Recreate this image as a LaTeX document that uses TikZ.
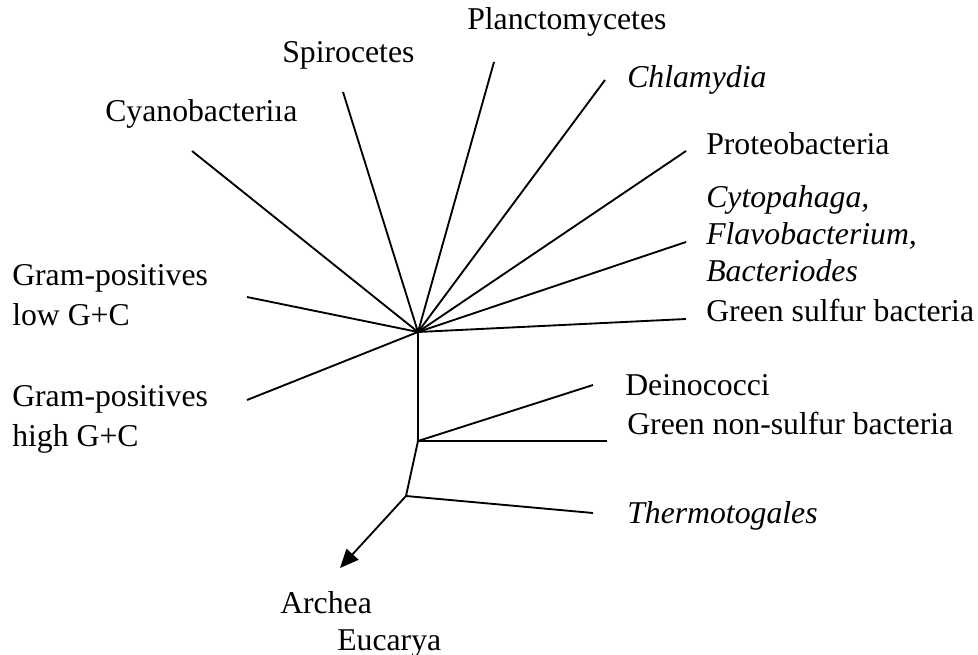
\documentclass[tikz,border=0pt]{standalone}
\usepackage{fontspec}
\setmainfont{Liberation Serif}
\usepackage{tikz}
\usetikzlibrary{positioning, arrows.meta}

\begin{document}
\begin{tikzpicture}[
        x=0.75pt, y=-0.75pt,
        every node/.style={font=\fontsize{23.8}{27.75}\selectfont, inner sep=0pt},
        taxon/.style={anchor=base west, align=left},
        wide/.style={taxon, font=\fontsize{23.8}{30}\selectfont},
        branch/.style={line width=1.4pt},
        arrow/.style={branch, -{Triangle[length=14pt, width=12pt]}}
    ]
        \useasboundingbox (0,0) rectangle (978,655);

        % labels (multi-line ones sit on their last baseline)
        \node[taxon] (planc) at (467,30) {Planctomycetes};
        \node[taxon] (spiro) at (282,63) {Spirocetes};
        \node[taxon] (cyano) at (105,122) {Cyanobacteriıa};
        \node[taxon] (chlam) at (627,88) {\textit{Chlamydia}};
        \node[taxon] (proteo) at (706,155) {Proteobacteria};
        \node[taxon] (cyto) at (706,282) {\textit{Cytopahaga,}\\\textit{Flavobacterium,}\\\textit{Bacteriodes}};
        \node[taxon] (gsulf) at (706,322) {Green sulfur bacteria};
        \node[wide] (glow) at (12,326) {Gram-positives\\low G+C};
        \node[wide] (ghigh) at (12,447) {Gram-positives\\high G+C};
        \node[taxon] (deino) at (625,396) {Deinococci};
        \node[taxon] (gns) at (627,435) {Green non-sulfur bacteria};
        \node[taxon] (thermo) at (627,523) {\textit{Thermotogales}};
        \node[taxon] (archea) at (280,613) {Archea};
        \node[taxon] (eucarya) at (337,650) {Eucarya};

        % tree
        \coordinate (hub) at (418,332);
        \coordinate (j1) at (418,441);
        \coordinate (j2) at (406,496);
        \coordinate (root) at (340,568);

        \coordinate (plancE) at (494,62);
        \coordinate (spiroE) at (343,92);
        \coordinate (cyanoE) at (192,151);
        \coordinate (chlamE) at (605,80);
        \coordinate (proteoE) at (686,151);
        \coordinate (cytoE) at (686,242);
        \coordinate (gsulfE) at (686,319);
        \coordinate (glowE) at (247,297);
        \coordinate (ghighE) at (247,400);
        \coordinate (deinoE) at (593,385);
        \coordinate (gnsE) at (607,441);
        \coordinate (thermoE) at (593,513);

        \foreach \e in {plancE, spiroE, cyanoE, chlamE, proteoE, cytoE, gsulfE, glowE, ghighE}
            \draw[branch] (hub) -- (\e);
        \draw[branch] (hub) -- (j1) -- (j2);
        \draw[branch] (j1) -- (deinoE);
        \draw[branch] (j1) -- (gnsE);
        \draw[branch] (j2) -- (thermoE);
        \draw[arrow] (j2) -- (root);
    \end{tikzpicture}
\end{document}
